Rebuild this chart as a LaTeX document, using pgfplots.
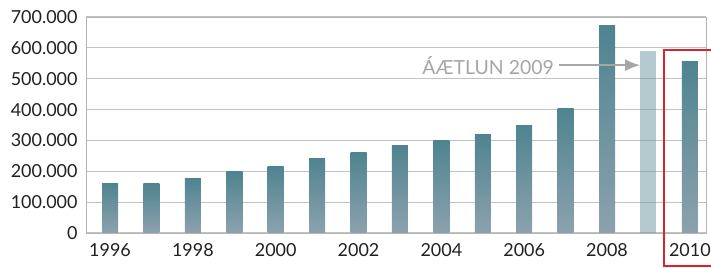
\documentclass[border=0pt]{standalone}
\usepackage{pgfplots}
\pgfplotsset{compat=1.18}
\usetikzlibrary{arrows.meta}
\usepackage{fontspec}
\setmainfont{Lato}
\definecolor{bartop}{HTML}{4E8490}
\definecolor{barbot}{HTML}{8CA2AE}
\definecolor{gridc}{HTML}{C2C2C2}
\definecolor{axc}{HTML}{B4B4B4}
\definecolor{txt}{HTML}{231F20}
\definecolor{annot}{HTML}{A6A6A6}
\definecolor{redbox}{HTML}{D9232D}
\begin{document}
\begin{tikzpicture}
\begin{axis}[
  scale only axis,
  width=620bp, height=216bp,
  xmin=-0.58, xmax=14.39,
  ymin=0, ymax=700000,
  axis line style={draw=axc, line width=1pt},
  ymajorgrids, grid style={draw=gridc, line width=1.2pt},
  major tick length=0pt,
  xtick={0,2,4,6,8,10,12,14},
  xticklabels={1996,1998,2000,2002,2004,2006,2008,2010},
  ytick={0,100000,200000,300000,400000,500000,600000,700000},
  yticklabels={0,100.000,200.000,300.000,400.000,500.000,600.000,700.000},
  scaled y ticks=false,
  tick label style={font=\fontsize{18}{18}\selectfont, text=txt},
  yticklabel style={xshift=-5bp},
  xticklabel style={yshift=-7bp},
  clip=false,
  axis on top=false,
  sbar/.style={ybar, bar width=16bp, bar shift=0pt, draw=none, top color=bartop, bottom color=barbot},
]
\addplot[sbar] coordinates {(0,162000)};
\addplot[sbar] coordinates {(1,159000)};
\addplot[sbar] coordinates {(2,178000)};
\addplot[sbar] coordinates {(3,198000)};
\addplot[sbar] coordinates {(4,214000)};
\addplot[sbar] coordinates {(5,243000)};
\addplot[sbar] coordinates {(6,262000)};
\addplot[sbar] coordinates {(7,282000)};
\addplot[sbar] coordinates {(8,299000)};
\addplot[sbar] coordinates {(9,318000)};
\addplot[sbar] coordinates {(10,350000)};
\addplot[sbar] coordinates {(11,405000)};
\addplot[sbar] coordinates {(12,671000)};
\addplot[ybar, bar width=16bp, bar shift=0pt, draw=none, fill=bartop!85!white, fill opacity=0.5] coordinates {(13,590000)};
\addplot[sbar] coordinates {(14,557000)};
\node[anchor=east, text=annot, font=\fontsize{19.5}{19.5}\selectfont, inner sep=0pt] (lab) at (axis cs:10.72,544000) {ÁÆTLUN 2009};
\draw[annot, line width=2pt, -{Latex[length=15bp,width=12bp]}] ([xshift=5bp]lab.east) -- (axis cs:12.80,544000);
\draw[redbox, line width=2pt] (axis cs:14.52,593000) -- (axis cs:13.38,593000) -- (axis cs:13.38,-107000) -- (axis cs:14.52,-107000);
\coordinate (sw) at (rel axis cs:0,0);
\coordinate (ne) at (rel axis cs:1,1);
\end{axis}
\pgfresetboundingbox
\path[use as bounding box] ([shift={(-86bp,-35bp)}]sw) rectangle ([shift={(5bp,17bp)}]ne);
\end{tikzpicture}
\end{document}
